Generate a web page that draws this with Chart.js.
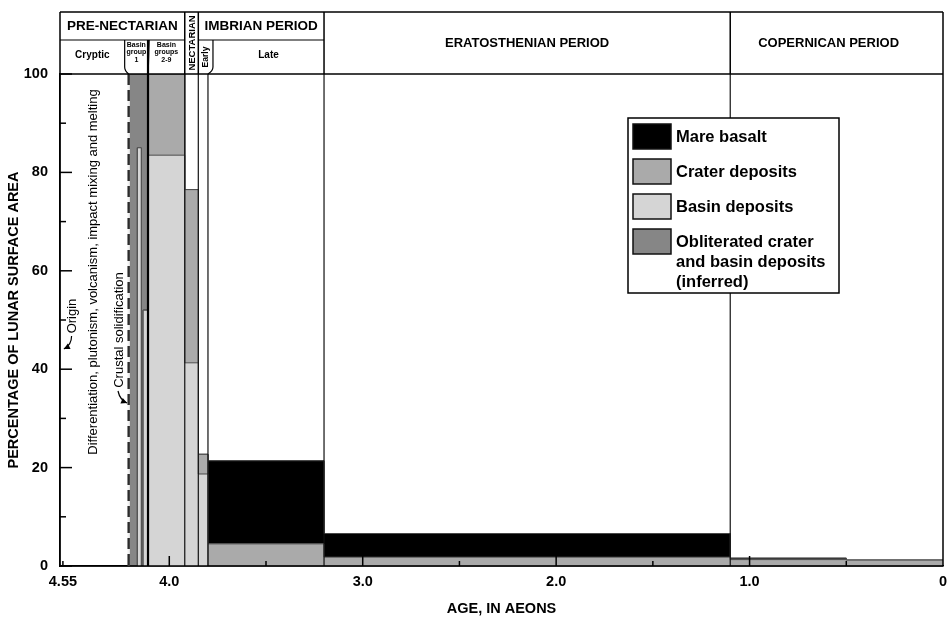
<!DOCTYPE html>
<html>
<head>
<meta charset="utf-8">
<script src="https://cdn.jsdelivr.net/npm/chart.js@4.4.0/dist/chart.umd.min.js"></script>
<style>
  html, body { margin: 0; padding: 0; background: #fff; }
  canvas { display: block; }
</style>
</head>
<body>
<canvas id="c" width="949" height="620"></canvas>
<script>
// Column boundaries in aeons (oldest to youngest); each column runs from one age to the next
const stepAges = [4.21, 4.165, 4.145, 4.135, 4.11, 3.92, 3.85, 3.80, 3.20, 1.10, 0.50, 0];

// Percentage of the lunar surface covered, per column
const basinDeposits       = [0, 85, 0, 52, 83.5, 41.3, 18.7, 0, 0, 0, 0];
const craterDeposits      = [0, 0, 0, 0, 16.5, 35.2, 4.0, 4.5, 1.8, 1.3, 1.2];
const mareBasalt          = [0, 0, 0, 0, 0, 0, 0, 16.9, 4.8, 0.3, 0];
const obliteratedDeposits = [100, 15, 100, 48, 0, 0, 0, 0, 0, 0, 0];

// Axis ticks
const ageTicks = [4.55, 4.0, 3.0, 2.0, 1.0, 0];
const ageTickLabels = ['4.55', '4.0', '3.0', '2.0', '1.0', '0'];
const ageMajorMarks = [4.0, 3.0, 2.0, 1.0];
const ageMinorMarks = [4.55, 3.5, 2.5, 1.5, 0.5];
const percentMinorMarks = [10, 30, 50, 70, 90];

// Time-scale boundaries (aeons)
const crustAge = 4.21;
const basinGroup1End = 4.11;
const nectarianStart = 3.92;
const imbrianStart = 3.85;
const lateImbrianStart = 3.80;
const eratosthenianStart = 3.20;
const copernicanStart = 1.10;

const FAMILY = "'Liberation Sans', Arial, Helvetica, sans-serif";
const font = (size, bold) => (bold ? 'bold ' : '') + size + 'px ' + FAMILY;

// Stack the layers: basin at the bottom, then crater, mare, obliterated
const layers = [basinDeposits, craterDeposits, mareBasalt, obliteratedDeposits];
let running = stepAges.slice(0, -1).map(() => 0);
const tops = layers.map(arr => {
  running = running.map((v, i) => v + arr[i]);
  return running.slice();
});
function stepPoints(top) {
  const pts = top.map((v, i) => ({ x: stepAges[i], y: v }));
  pts.push({ x: stepAges[stepAges.length - 1], y: top[top.length - 1] });
  return pts;
}

const seriesStyle = [
  { label: 'Basin deposits', color: '#d5d5d5' },
  { label: 'Crater deposits', color: '#aaaaaa' },
  { label: 'Mare basalt', color: '#000000' },
  { label: 'Obliterated crater and basin deposits (inferred)', color: '#868686' }
];
const legendEntries = [
  { series: 2, lines: ['Mare basalt'] },
  { series: 1, lines: ['Crater deposits'] },
  { series: 0, lines: ['Basin deposits'] },
  { series: 3, lines: ['Obliterated crater', 'and basin deposits', '(inferred)'] }
];

function seg(ctx, x1, y1, x2, y2, w, col, dash) {
  ctx.beginPath();
  ctx.setLineDash(dash || []);
  ctx.lineWidth = w || 1;
  ctx.strokeStyle = col || '#000';
  ctx.moveTo(x1, y1);
  ctx.lineTo(x2, y2);
  ctx.stroke();
  ctx.setLineDash([]);
}
function vtext(ctx, str, cx, cy) {
  ctx.save();
  ctx.translate(cx, cy);
  ctx.rotate(-Math.PI / 2);
  ctx.textAlign = 'center';
  ctx.textBaseline = 'middle';
  ctx.fillText(str, 0, 0);
  ctx.restore();
}
function curvedArrow(ctx, x0, y0, cx, cy, x1, y1) {
  ctx.beginPath();
  ctx.lineWidth = 1.2;
  ctx.strokeStyle = '#000';
  ctx.moveTo(x0, y0);
  ctx.quadraticCurveTo(cx, cy, x1, y1);
  ctx.stroke();
  const ang = Math.atan2(y1 - cy, x1 - cx);
  const len = 6, hw = 3;
  ctx.beginPath();
  ctx.fillStyle = '#000';
  ctx.moveTo(x1, y1);
  ctx.lineTo(x1 - len * Math.cos(ang) + hw * Math.sin(ang), y1 - len * Math.sin(ang) - hw * Math.cos(ang));
  ctx.lineTo(x1 - len * Math.cos(ang) - hw * Math.sin(ang), y1 - len * Math.sin(ang) + hw * Math.cos(ang));
  ctx.closePath();
  ctx.fill();
}

const timeScalePlugin = {
  id: 'timeScale',
  afterDatasetsDraw(chart) {
    const { ctx, chartArea: ca, scales: { x, y } } = chart;
    const X = a => x.getPixelForValue(a);
    const Y = v => y.getPixelForValue(v);
    const top = 12, mid = 40, bot = ca.top;
    const L = ca.left, R = ca.right, B = ca.bottom;
    ctx.save();

    // period boundaries through the plot
    [nectarianStart, imbrianStart, lateImbrianStart, eratosthenianStart, copernicanStart]
      .forEach(a => seg(ctx, X(a), bot, X(a), B, 1.2, '#111'));
    seg(ctx, X(basinGroup1End), mid, X(basinGroup1End), B, 2.2, '#000');

    // crustal solidification (dashed)
    seg(ctx, X(crustAge), bot, X(crustAge), B, 2.4, '#f2f2f2');
    seg(ctx, X(crustAge), bot, X(crustAge), B, 2.4, '#2b2b2b', [11, 5]);

    // inward tick marks
    y.ticks.forEach(t => seg(ctx, L, Y(t.value), L + 12, Y(t.value), 1.5));
    percentMinorMarks.forEach(v => seg(ctx, L, Y(v), L + 6, Y(v), 1.5));
    ageMajorMarks.forEach(a => seg(ctx, X(a), B, X(a), B - 10, 1.5));
    ageMinorMarks.forEach(a => seg(ctx, X(a), B, X(a), B - 5, 1.5));

    // frame
    seg(ctx, L, top, R, top, 1.5);
    seg(ctx, L, bot, R, bot, 1.5);
    seg(ctx, L, top, L, B, 1.5);
    seg(ctx, R, top, R, B, 1.5);
    seg(ctx, L, B, R, B, 1.5);

    // header cells
    [nectarianStart, imbrianStart, eratosthenianStart, copernicanStart]
      .forEach(a => seg(ctx, X(a), top, X(a), bot, 1.5));
    seg(ctx, L, mid, X(nectarianStart), mid, 1.2);
    seg(ctx, X(imbrianStart), mid, X(eratosthenianStart), mid, 1.2);
    const hook = (xTop, xBot) => {
      ctx.beginPath();
      ctx.lineWidth = 1.2;
      ctx.strokeStyle = '#000';
      ctx.moveTo(xTop, mid);
      ctx.lineTo(xTop, bot - 7);
      ctx.quadraticCurveTo(xTop, bot - 3, xBot, bot);
      ctx.stroke();
    };
    hook(X(crustAge) - 4, X(crustAge));
    seg(ctx, X(basinGroup1End) + 1, mid, X(basinGroup1End), bot, 1.5);
    hook(X(lateImbrianStart) + 5, X(lateImbrianStart));

    ctx.fillStyle = '#000';
    ctx.textAlign = 'center';
    ctx.textBaseline = 'middle';
    ctx.font = font(13.5, true);
    ctx.fillText('PRE-NECTARIAN', (L + X(nectarianStart)) / 2, 26.5);
    ctx.fillText('IMBRIAN PERIOD', (X(imbrianStart) + X(eratosthenianStart)) / 2, 26.5);
    ctx.font = font(13, true);
    ctx.fillText('ERATOSTHENIAN PERIOD', (X(eratosthenianStart) + X(copernicanStart)) / 2, 43);
    ctx.fillText('COPERNICAN PERIOD', (X(copernicanStart) + R) / 2 - 8, 43);
    ctx.font = font(9.5, true);
    vtext(ctx, 'NECTARIAN', (X(nectarianStart) + X(imbrianStart)) / 2 + 0.5, (top + bot) / 2);
    ctx.font = font(10, true);
    ctx.fillText('Cryptic', (L + X(crustAge) - 4) / 2, 55);
    ctx.fillText('Late', (X(lateImbrianStart) + 5 + X(eratosthenianStart)) / 2, 55);
    ctx.font = font(8.5, true);
    vtext(ctx, 'Early', (X(imbrianStart) + X(lateImbrianStart) + 5) / 2, 57);
    ctx.font = font(7, true);
    const g1 = (X(crustAge) - 4 + X(basinGroup1End)) / 2;
    ctx.fillText('Basin', g1, 45.5);
    ctx.fillText('group', g1, 52.5);
    ctx.fillText('1', g1, 60.5);
    const g2 = (X(basinGroup1End) + X(nectarianStart)) / 2;
    ctx.fillText('Basin', g2, 45.5);
    ctx.fillText('groups', g2, 52.5);
    ctx.fillText('2-9', g2, 60.5);

    // annotations
    ctx.font = font(13, false);
    vtext(ctx, 'Differentiation, plutonism, volcanism, impact mixing and melting', X(4.39), 272);
    vtext(ctx, 'Origin', X(4.50), 316);
    curvedArrow(ctx, X(4.50) - 1, 336, X(4.505), 345, X(4.545), 349);
    vtext(ctx, 'Crustal solidification', X(4.26), 330);
    curvedArrow(ctx, X(4.26) - 1, 391, X(4.255), 400, X(4.218), 403);

    ctx.restore();
  },
  afterDraw(chart) {
    const { ctx, chartArea: ca } = chart;
    const lx = ca.left + 568, ly = ca.top + 44, w = 211, h = 175;
    ctx.save();
    ctx.fillStyle = '#fff';
    ctx.fillRect(lx, ly, w, h);
    ctx.lineWidth = 1.5;
    ctx.strokeStyle = '#000';
    ctx.strokeRect(lx, ly, w, h);
    ctx.font = font(16.5, true);
    ctx.textAlign = 'left';
    ctx.textBaseline = 'middle';
    legendEntries.forEach((e, i) => {
      const ds = chart.data.datasets[e.series];
      const sy = ly + 6 + i * 35;
      ctx.fillStyle = ds.backgroundColor;
      ctx.fillRect(lx + 5, sy, 38, 25);
      ctx.lineWidth = 1.5;
      ctx.strokeStyle = '#111';
      ctx.strokeRect(lx + 5, sy, 38, 25);
      ctx.fillStyle = '#000';
      e.lines.forEach((t, k) => ctx.fillText(t, lx + 48, sy + 13.5 + k * 20));
    });
    ctx.restore();
  }
};

new Chart(document.getElementById('c'), {
  type: 'line',
  data: {
    datasets: tops.map((top, i) => ({
      label: seriesStyle[i].label,
      data: stepPoints(top),
      stepped: 'before',
      fill: i === 0 ? 'origin' : '-1',
      backgroundColor: seriesStyle[i].color,
      borderColor: '#4a4a4a',
      borderWidth: 1,
      pointRadius: 0,
      tension: 0
    }))
  },
  options: {
    responsive: false,
    animation: false,
    layout: { padding: { top: 74, right: 6, left: 0, bottom: 0 } },
    plugins: { legend: { display: false }, tooltip: { enabled: false } },
    scales: {
      x: {
        type: 'linear',
        reverse: true,
        min: 0,
        max: 4.565,
        afterFit: s => { s.height = 54; s.paddingRight = 0; s.paddingLeft = 0; },
        afterBuildTicks: s => { s.ticks = ageTicks.map(v => ({ value: v })); },
        grid: { display: false, drawTicks: false, tickLength: 0 },
        border: { display: true, color: '#000', width: 1.5 },
        ticks: {
          autoSkip: false,
          maxRotation: 0,
          padding: 7,
          color: '#000',
          font: { family: FAMILY, size: 14.5, weight: 'bold' },
          callback: (v, i) => ageTickLabels[i]
        },
        title: {
          display: true,
          text: 'AGE, IN AEONS',
          color: '#000',
          font: { family: FAMILY, size: 14.5, weight: 'bold' },
          padding: { top: 0, bottom: 2 }
        }
      },
      y: {
        min: 0,
        max: 100,
        afterFit: s => { s.width = 60; },
        grid: { display: false, drawTicks: false, tickLength: 0 },
        border: { display: true, color: '#000', width: 1.5 },
        ticks: {
          stepSize: 20,
          padding: 12,
          color: '#000',
          font: { family: FAMILY, size: 14.5, weight: 'bold' }
        },
        title: {
          display: true,
          text: 'PERCENTAGE OF LUNAR SURFACE AREA',
          color: '#000',
          font: { family: FAMILY, size: 14.5, weight: 'bold' },
          padding: { top: 5, bottom: 0 }
        }
      }
    }
  },
  plugins: [timeScalePlugin]
});
</script>
</body>
</html>
